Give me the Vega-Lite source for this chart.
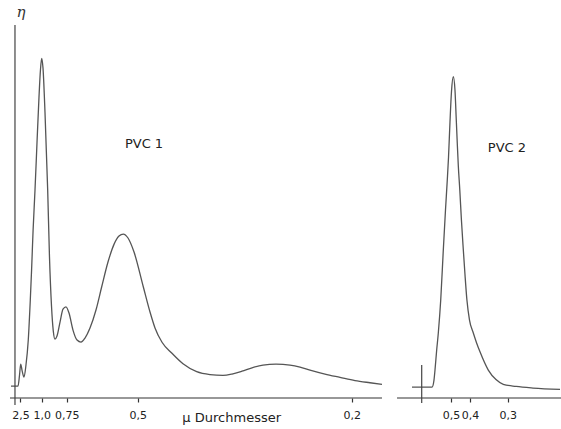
{
  "$schema": "https://vega.github.io/schema/vega-lite/v6.json",
  "width": 561,
  "height": 398,
  "padding": 0,
  "autosize": {"type": "pad"},
  "background": "white",
  "config": {"view": {"stroke": null}},
  "datasets": {
    "curve": [
      {"panel": "PVC 1", "lauf": 1.96, "eta": 0},
      {"panel": "PVC 1", "lauf": 3.21, "eta": 0},
      {"panel": "PVC 1", "lauf": 3.48, "eta": 2.76},
      {"panel": "PVC 1", "lauf": 3.69, "eta": 5.53},
      {"panel": "PVC 1", "lauf": 3.92, "eta": 4.02},
      {"panel": "PVC 1", "lauf": 4.28, "eta": 2.26},
      {"panel": "PVC 1", "lauf": 4.63, "eta": 5.28},
      {"panel": "PVC 1", "lauf": 5.04, "eta": 11.56},
      {"panel": "PVC 1", "lauf": 5.4, "eta": 21.61},
      {"panel": "PVC 1", "lauf": 5.63, "eta": 29.15},
      {"panel": "PVC 1", "lauf": 5.9, "eta": 39.2},
      {"panel": "PVC 1", "lauf": 6.24, "eta": 49.25},
      {"panel": "PVC 1", "lauf": 6.6, "eta": 61.3},
      {"panel": "PVC 1", "lauf": 6.95, "eta": 72.6},
      {"panel": "PVC 1", "lauf": 7.22, "eta": 79.6},
      {"panel": "PVC 1", "lauf": 7.43, "eta": 82.34},
      {"panel": "PVC 1", "lauf": 7.66, "eta": 80.0},
      {"panel": "PVC 1", "lauf": 8.02, "eta": 68.8},
      {"panel": "PVC 1", "lauf": 8.5, "eta": 49.25},
      {"panel": "PVC 1", "lauf": 8.82, "eta": 32.5},
      {"panel": "PVC 1", "lauf": 9.18, "eta": 20.1},
      {"panel": "PVC 1", "lauf": 9.5, "eta": 13.8},
      {"panel": "PVC 1", "lauf": 9.8, "eta": 11.81},
      {"panel": "PVC 1", "lauf": 10.16, "eta": 12.56},
      {"panel": "PVC 1", "lauf": 10.7, "eta": 16.08},
      {"panel": "PVC 1", "lauf": 11.23, "eta": 19.35},
      {"panel": "PVC 1", "lauf": 11.76, "eta": 19.92},
      {"panel": "PVC 1", "lauf": 12.3, "eta": 18.34},
      {"panel": "PVC 1", "lauf": 13.01, "eta": 14.07},
      {"panel": "PVC 1", "lauf": 13.73, "eta": 11.56},
      {"panel": "PVC 1", "lauf": 14.44, "eta": 11.06},
      {"panel": "PVC 1", "lauf": 15.15, "eta": 12.06},
      {"panel": "PVC 1", "lauf": 16.04, "eta": 14.57},
      {"panel": "PVC 1", "lauf": 17.11, "eta": 19.1},
      {"panel": "PVC 1", "lauf": 18.13, "eta": 24.95},
      {"panel": "PVC 1", "lauf": 19.25, "eta": 31.16},
      {"panel": "PVC 1", "lauf": 20.32, "eta": 35.6},
      {"panel": "PVC 1", "lauf": 21.21, "eta": 37.69},
      {"panel": "PVC 1", "lauf": 21.98, "eta": 38.19},
      {"panel": "PVC 1", "lauf": 22.82, "eta": 37.2},
      {"panel": "PVC 1", "lauf": 23.89, "eta": 33.67},
      {"panel": "PVC 1", "lauf": 25.54, "eta": 24.95},
      {"panel": "PVC 1", "lauf": 26.74, "eta": 18.6},
      {"panel": "PVC 1", "lauf": 27.63, "eta": 14.6},
      {"panel": "PVC 1", "lauf": 28.88, "eta": 11.0},
      {"panel": "PVC 1", "lauf": 30.61, "eta": 8.29},
      {"panel": "PVC 1", "lauf": 32.62, "eta": 5.6},
      {"panel": "PVC 1", "lauf": 35.06, "eta": 3.62},
      {"panel": "PVC 1", "lauf": 37.43, "eta": 2.89},
      {"panel": "PVC 1", "lauf": 39.75, "eta": 2.69},
      {"panel": "PVC 1", "lauf": 41.35, "eta": 3.02},
      {"panel": "PVC 1", "lauf": 43.14, "eta": 3.74},
      {"panel": "PVC 1", "lauf": 44.92, "eta": 4.6},
      {"panel": "PVC 1", "lauf": 46.88, "eta": 5.28},
      {"panel": "PVC 1", "lauf": 49.2, "eta": 5.53},
      {"panel": "PVC 1", "lauf": 51.69, "eta": 5.28},
      {"panel": "PVC 1", "lauf": 53.48, "eta": 4.77},
      {"panel": "PVC 1", "lauf": 55.26, "eta": 4.02},
      {"panel": "PVC 1", "lauf": 57.93, "eta": 3.02},
      {"panel": "PVC 1", "lauf": 60.61, "eta": 2.19},
      {"panel": "PVC 1", "lauf": 63.28, "eta": 1.38},
      {"panel": "PVC 1", "lauf": 65.95, "eta": 0.83},
      {"panel": "PVC 1", "lauf": 68.09, "eta": 0.43},
      {"panel": "PVC 2", "lauf": 73.44, "eta": -0.25},
      {"panel": "PVC 2", "lauf": 77.01, "eta": -0.25},
      {"panel": "PVC 2", "lauf": 77.36, "eta": 1.51},
      {"panel": "PVC 2", "lauf": 77.54, "eta": 4.02},
      {"panel": "PVC 2", "lauf": 77.84, "eta": 9.05},
      {"panel": "PVC 2", "lauf": 78.13, "eta": 13.32},
      {"panel": "PVC 2", "lauf": 78.56, "eta": 21.61},
      {"panel": "PVC 2", "lauf": 79.02, "eta": 34.17},
      {"panel": "PVC 2", "lauf": 79.41, "eta": 44.22},
      {"panel": "PVC 2", "lauf": 79.73, "eta": 51.76},
      {"panel": "PVC 2", "lauf": 79.95, "eta": 57.5},
      {"panel": "PVC 2", "lauf": 80.21, "eta": 66.3},
      {"panel": "PVC 2", "lauf": 80.48, "eta": 74.0},
      {"panel": "PVC 2", "lauf": 80.8, "eta": 77.71},
      {"panel": "PVC 2", "lauf": 81.1, "eta": 74.4},
      {"panel": "PVC 2", "lauf": 81.32, "eta": 67.3},
      {"panel": "PVC 2", "lauf": 81.51, "eta": 61.0},
      {"panel": "PVC 2", "lauf": 81.69, "eta": 55.5},
      {"panel": "PVC 2", "lauf": 81.96, "eta": 49.25},
      {"panel": "PVC 2", "lauf": 82.25, "eta": 41.71},
      {"panel": "PVC 2", "lauf": 82.59, "eta": 34.17},
      {"panel": "PVC 2", "lauf": 82.89, "eta": 27.89},
      {"panel": "PVC 2", "lauf": 83.23, "eta": 21.61},
      {"panel": "PVC 2", "lauf": 83.69, "eta": 16.58},
      {"panel": "PVC 2", "lauf": 84.37, "eta": 13.32},
      {"panel": "PVC 2", "lauf": 84.94, "eta": 10.9},
      {"panel": "PVC 2", "lauf": 85.56, "eta": 8.6},
      {"panel": "PVC 2", "lauf": 87.04, "eta": 4.02},
      {"panel": "PVC 2", "lauf": 88.41, "eta": 1.63},
      {"panel": "PVC 2", "lauf": 89.71, "eta": 0.45},
      {"panel": "PVC 2", "lauf": 92.0, "eta": -0.1},
      {"panel": "PVC 2", "lauf": 95.01, "eta": -0.5},
      {"panel": "PVC 2", "lauf": 99.82, "eta": -0.83}
    ],
    "achsen": [
      {"von": 1.78, "bis": 68.09, "eta": -3},
      {"von": 70.77, "bis": 100, "eta": -3}
    ],
    "senkrecht": [
      {"lauf": 2.67, "unten": -4.77, "oben": 90.7},
      {"lauf": 75.17, "unten": -4.27, "oben": 5.28}
    ],
    "texte": [
      {"lauf": 25.67, "eta": 60.8, "text": "PVC  1"},
      {"lauf": 90.37, "eta": 59.8, "text": "PVC  2"},
      {"lauf": 41.3, "eta": -8.0, "text": "μ   Durchmesser"}
    ]
  },
  "layer": [
    {
      "data": {"name": "curve"},
      "mark": {"type": "line", "color": "#555555", "strokeWidth": 1.3, "interpolate": "monotone"},
      "encoding": {
        "x": {
          "field": "lauf", "type": "quantitative",
          "scale": {"domain": [0, 100], "nice": false, "zero": false},
          "axis": {
            "title": null, "domain": false, "grid": false,
            "values": [3.65, 7.43, 11.89, 24.55, 62.69, 80.39, 83.78, 90.5],
            "labelExpr": "datum.value < 5 ? '2,5' : datum.value < 9 ? '1,0' : datum.value < 15 ? '0,75' : datum.value < 30 ? '0,5' : datum.value < 70 ? '0,2' : datum.value < 82 ? '0,5' : datum.value < 86 ? '0,4' : '0,3'",
            "labelOverlap": false, "labelFlush": false, "labelBound": false,
            "tickColor": "#333333", "tickSize": 4, "tickWidth": 1.2,
            "labelFont": "DejaVu Sans", "labelFontSize": 11, "labelColor": "#222222",
            "labelPadding": 7
          }
        },
        "y": {
          "field": "eta", "type": "quantitative",
          "scale": {"domain": [-3, 97], "nice": false, "zero": false},
          "axis": null
        },
        "detail": {"field": "panel"}
      }
    },
    {
      "data": {"name": "achsen"},
      "mark": {"type": "rule", "color": "#333333", "strokeWidth": 1.2},
      "encoding": {
        "x": {"field": "von", "type": "quantitative"},
        "x2": {"field": "bis"},
        "y": {"field": "eta", "type": "quantitative"}
      }
    },
    {
      "data": {"name": "senkrecht"},
      "mark": {"type": "rule", "color": "#444444", "strokeWidth": 1.2},
      "encoding": {
        "x": {"field": "lauf", "type": "quantitative"},
        "y": {"field": "unten", "type": "quantitative"},
        "y2": {"field": "oben"}
      }
    },
    {
      "data": {"name": "texte"},
      "mark": {"type": "text", "font": "DejaVu Sans", "fontSize": 13, "color": "#222222", "align": "center", "baseline": "middle"},
      "encoding": {
        "x": {"field": "lauf", "type": "quantitative"},
        "y": {"field": "eta", "type": "quantitative"},
        "text": {"field": "text"}
      }
    },
    {
      "data": {"values": [{"lauf": 3.74, "eta": 94.0, "text": "η"}]},
      "mark": {"type": "text", "font": "DejaVu Serif", "fontSize": 15, "fontStyle": "italic", "color": "#333333", "align": "center", "baseline": "middle"},
      "encoding": {
        "x": {"field": "lauf", "type": "quantitative"},
        "y": {"field": "eta", "type": "quantitative"},
        "text": {"field": "text"}
      }
    }
  ]
}
